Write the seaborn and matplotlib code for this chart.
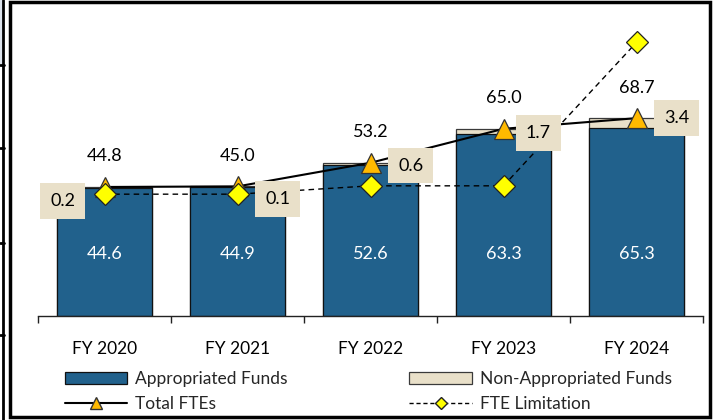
import matplotlib
matplotlib.use("Agg")
import matplotlib.pyplot as plt
import seaborn as sns
import numpy as np
import pandas as pd
from matplotlib.patches import Rectangle, Patch
from matplotlib.lines import Line2D
from matplotlib.ticker import FixedLocator

# ---- data ----
years = ["FY 2020", "FY 2021", "FY 2022", "FY 2023", "FY 2024"]
appropriated = [44.6, 44.9, 52.6, 63.3, 65.3]
non_appropriated = [0.2, 0.1, 0.6, 1.7, 3.4]
total_ftes = [44.8, 45.0, 53.2, 65.0, 68.7]
fte_limitation = [42.3, 42.3, 45.2, 45.2, 95.0]

BLUE = "#21618C"
BEIGE = "#E9E0C9"
ORANGE = "#FFB900"
YELLOW = "#FFFF00"

sns.set_theme(style="white")
plt.rcParams['font.family'] = ['Lato', 'DejaVu Sans']

fig = plt.figure(figsize=(7.13, 4.2), dpi=100)
W, H = 713, 420
ax = fig.add_axes([38 / W, 1 - 316 / H, (703 - 38) / W, 288 / H])

df = pd.DataFrame({
    "year": years,
    "appropriated": appropriated,
    "non_appropriated": non_appropriated,
})
df["stacked"] = df["appropriated"] + df["non_appropriated"]

sns.barplot(data=df, x="year", y="stacked", color=BEIGE, saturation=1,
            edgecolor="#3a3a3a", linewidth=0.9, width=0.714, ax=ax, zorder=2)
sns.barplot(data=df, x="year", y="appropriated", color=BLUE, saturation=1,
            edgecolor="#111111", linewidth=0.9, width=0.714, ax=ax, zorder=2)

idx = np.arange(len(years))
sns.lineplot(x=idx, y=total_ftes, color="black", lw=1.5, marker="^",
             markersize=15, markerfacecolor=ORANGE, markeredgecolor="#333333",
             markeredgewidth=0.9, ax=ax, zorder=4)
sns.lineplot(x=idx, y=fte_limitation, color="black", lw=1.0, linestyle=(0, (4, 3)),
             marker="D", markersize=11, markerfacecolor=YELLOW,
             markeredgecolor="#222222", markeredgewidth=0.9, ax=ax, zorder=5)

ax.set_xlim(-0.5, 4.5)
ax.set_ylim(0, 100)
ax.set_xlabel("")
ax.set_ylabel("")
ax.set_yticks([])
for s in ["top", "right", "left"]:
    ax.spines[s].set_visible(False)
ax.spines["bottom"].set_color("#222222")
ax.spines["bottom"].set_linewidth(1.0)
ax.tick_params(axis="x", which="major", length=0, pad=18, labelsize=12.5, labelcolor="black")
ax.xaxis.set_minor_locator(FixedLocator(np.arange(-0.5, 5, 1.0)))
ax.tick_params(axis="x", which="minor", length=5, width=1, color="#222222", bottom=True, direction="out")

# total labels above markers
for i, t in enumerate(total_ftes):
    ax.annotate(f"{t:.1f}", (i, t), xytext=(0, 22), textcoords="offset points",
                ha="center", va="center", fontsize=13, color="black", zorder=6)

# appropriated labels inside bars
for i, a in enumerate(appropriated):
    ax.text(i, 21.5, f"{a:.1f}", ha="center", va="center", fontsize=13,
            color="white", zorder=6)

# non-appropriated boxed labels
box_offsets = [(-30, -10), (29, -9), (29, -2), (25, -3), (29, 0)]
for i, (n, t) in enumerate(zip(non_appropriated, total_ftes)):
    dx, dy = box_offsets[i]
    ax.annotate(f"{n:.1f}", (i, t), xytext=(dx, dy), textcoords="offset points",
                ha="center", va="center", fontsize=13, color="black", zorder=7,
                bbox=dict(boxstyle="square,pad=0.55", fc=BEIGE, ec="none"))

# legend
handles = [
    Patch(facecolor=BLUE, edgecolor="#111111", linewidth=0.9),
    Line2D([0], [0], color="black", lw=1.5, marker="^", markersize=8.5,
           markerfacecolor=ORANGE, markeredgecolor="#333333"),
    Patch(facecolor=BEIGE, edgecolor="#3a3a3a", linewidth=0.9),
    Line2D([0], [0], color="black", lw=1.0, linestyle=(0, (3, 2)), marker="D",
           markersize=6, markerfacecolor=YELLOW, markeredgecolor="#222222"),
]
labels = ["Appropriated Funds", "Total FTEs", "Non-Appropriated Funds", "FTE Limitation"]
leg = fig.legend(handles, labels, ncol=2, loc="upper left",
                 bbox_to_anchor=(58 / W, 1 - 364 / H), frameon=False,
                 fontsize=12.5, handlelength=3.6, handletextpad=0.45,
                 columnspacing=7.0, labelspacing=0.5, borderaxespad=0)

# outer frame
fig.patches.append(Rectangle((10 / W, 3 / H), (710 - 10) / W, (415) / H,
                             transform=fig.transFigure, fill=False,
                             edgecolor="black", linewidth=2.5))
fig.patches.append(Rectangle((0, 1 - 65 / H), 3 / W, 65 / H,
                             transform=fig.transFigure, facecolor="#DCE3EC",
                             edgecolor="none"))
fig.lines.append(Line2D([3 / W, 3 / W], [0, 1], transform=fig.transFigure,
                        color="black", lw=2))
for yy in [65, 148, 243, 335]:
    fig.lines.append(Line2D([0, 4 / W], [1 - yy / H, 1 - yy / H],
                            transform=fig.transFigure, color="black", lw=2))

fig.savefig("out.png", dpi=100)
